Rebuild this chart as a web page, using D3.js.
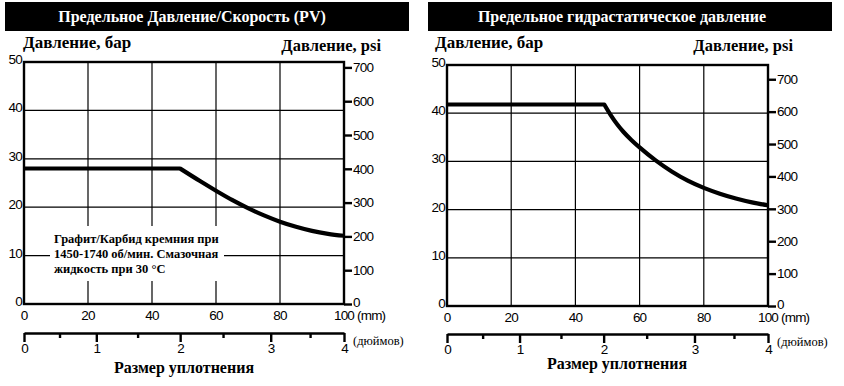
<!DOCTYPE html>
<html>
<head>
<meta charset="utf-8">
<script src="https://cdn.jsdelivr.net/npm/d3@7"></script>
<style>
  body { margin: 0; background: #fff; }
  svg { display: block; }
  .serif { font-family: "Liberation Serif", "Times New Roman", serif; font-weight: bold; }
  .num { font-family: "Liberation Sans", Arial, sans-serif; font-size: 13.5px; letter-spacing: -0.8px; }
</style>
</head>
<body>
<svg id="chart" width="844" height="386"></svg>
<script>
// values
const titles = ["Предельное Давление/Скорость (PV)", "Предельное гидрастатическое давление"];
const barTicks = [0, 10, 20, 30, 40, 50];
const psiTicks = [0, 100, 200, 300, 400, 500, 600, 700];
const mmTicks = [0, 20, 40, 60, 80, 100];
// inch scale is drawn unevenly in the source; mm position of every half inch
const inchValues = [0, 0.5, 1, 1.5, 2, 2.5, 3, 3.5, 4];
const inchAtMm = [0, 11.1, 22.6, 35.5, 48.8, 62.2, 77.1, 89.4, 100];
const inchLabels = [0, 1, 2, 3, 4];
// [mm, bar]; second point is where the flat part ends
const pvSeries = [[0, 28], [48.75, 28], [55, 25.4], [60, 23.4], [65, 21.5], [70, 19.8],
  [75, 18.3], [80, 17], [85, 15.95], [90, 15.1], [95, 14.5], [100, 14.1]];
const hydroSeries = [[0, 41.8], [49, 41.8], [51, 39.6], [53, 37.7], [55, 36.1], [57.5, 34.4],
  [60, 32.9], [65, 30.2], [70, 27.9], [75, 26], [80, 24.5], [85, 23.3], [90, 22.3],
  [95, 21.5], [100, 20.9]];
const noteLines = ["Графит/Карбид кремния при", "1450-1740 об/мин. Смазочная", "жидкость при 30 °C"];

const svg = d3.select("#chart");

const panels = [
  { title: titles[0], data: pvSeries, bar: [5, 409], titleX: 192,
    left: 24, right: 344, top: 62, bottom: 304, psiMax: 716, inchY: 333,
    psiLabelX: 381, barLabelX: 23, bottomTitleX: 184, bottomTitleY: 373, note: true },
  { title: titles[1], data: hydroSeries, bar: [428, 832], titleX: 622,
    left: 447, right: 768, top: 65, bottom: 306, psiMax: 744, inchY: 334,
    psiLabelX: 793, barLabelX: 435, bottomTitleX: 617, bottomTitleY: 369, note: false }
];

panels.forEach(drawPanel);

function drawPanel(p) {
  const g = svg.append("g");

  // title bar
  g.append("rect")
    .attr("x", p.bar[0]).attr("y", 2)
    .attr("width", p.bar[1] - p.bar[0]).attr("height", 29)
    .attr("fill", "#000");
  g.append("text").attr("class", "serif")
    .attr("x", p.titleX).attr("y", 22)
    .attr("text-anchor", "middle").attr("fill", "#fff")
    .style("font-size", "16px")
    .text(p.title);

  g.append("text").attr("class", "serif")
    .attr("x", p.barLabelX).attr("y", 48)
    .style("font-size", "17px")
    .text("Давление, бар");
  g.append("text").attr("class", "serif")
    .attr("x", p.psiLabelX).attr("y", 51)
    .attr("text-anchor", "end")
    .style("font-size", "16.5px")
    .text("Давление, psi");

  const x = d3.scaleLinear().domain([0, 100]).range([p.left, p.right]);
  const y = d3.scaleLinear().domain([0, 50]).range([p.bottom, p.top]);
  const yPsi = d3.scaleLinear().domain([0, p.psiMax]).range([p.bottom, p.top]);
  const xInch = d3.scaleLinear().domain(inchValues).range(inchAtMm.map(function (d) { return x(d); }));

  // grid
  g.append("g").selectAll("line")
    .data(barTicks.slice(1, -1))
    .join("line")
    .attr("x1", p.left).attr("x2", p.right)
    .attr("y1", function (d) { return y(d); })
    .attr("y2", function (d) { return y(d); })
    .attr("stroke", "#000").attr("stroke-width", 1.2);
  g.append("g").selectAll("line")
    .data(mmTicks.slice(1, -1))
    .join("line")
    .attr("y1", p.top).attr("y2", p.bottom)
    .attr("x1", function (d) { return x(d); })
    .attr("x2", function (d) { return x(d); })
    .attr("stroke", "#000").attr("stroke-width", 1.2);

  // note box (white patch over grid)
  if (p.note) {
    g.append("rect")
      .attr("x", 50).attr("y", 226)
      .attr("width", 174).attr("height", 55)
      .attr("fill", "#fff");
    g.append("text").attr("class", "serif")
      .style("font-size", "12.5px")
      .selectAll("tspan")
      .data(noteLines)
      .join("tspan")
      .attr("x", 54)
      .attr("y", function (d, i) { return 243 + i * 14.8; })
      .text(function (d) { return d; });
  }

  // curve: flat part, then the falling part (kept apart so the corner stays sharp)
  const line = d3.line()
    .x(function (d) { return x(d[0]); })
    .y(function (d) { return y(d[1]); })
    .curve(d3.curveMonotoneX);
  g.append("path")
    .attr("fill", "none")
    .attr("stroke", "#000")
    .attr("stroke-width", 4.2)
    .attr("stroke-linejoin", "round")
    .attr("d", line(p.data.slice(0, 2)) + line(p.data.slice(1)).replace(/^M/, "L"));

  // frame
  g.append("rect")
    .attr("x", p.left).attr("y", p.top)
    .attr("width", p.right - p.left).attr("height", p.bottom - p.top)
    .attr("fill", "none").attr("stroke", "#000").attr("stroke-width", 2.4);

  // left bar labels
  g.append("g").attr("class", "num")
    .selectAll("text")
    .data(barTicks)
    .join("text")
    .attr("x", p.left - 2)
    .attr("y", function (d) { return y(d) + 2; })
    .attr("text-anchor", "end")
    .text(function (d) { return d; });

  // right psi axis
  const rightAxis = g.append("g")
    .attr("transform", "translate(" + p.right + ",0)")
    .call(d3.axisRight(yPsi).tickValues(psiTicks).tickSize(8).tickPadding(1));
  rightAxis.select(".domain").remove();
  rightAxis.selectAll("line").attr("stroke-width", 2.4);
  rightAxis.selectAll("text")
    .attr("class", "num")
    .attr("font-family", null).attr("font-size", null)
    .attr("fill", "#000")
    .attr("dy", function (d) { return d === 0 ? "0.15em" : "0.32em"; });

  // mm labels
  g.append("g").attr("class", "num")
    .selectAll("text")
    .data(mmTicks)
    .join("text")
    .attr("x", function (d) { return x(d); })
    .attr("y", p.bottom + 16)
    .attr("text-anchor", "middle")
    .text(function (d) { return d; });
  g.append("text").attr("class", "num")
    .attr("x", x(100) + 13).attr("y", p.bottom + 16)
    .text("(mm)");

  // inch axis
  const inchAxis = g.append("g")
    .attr("transform", "translate(0," + p.inchY + ")")
    .call(d3.axisBottom(xInch)
      .tickValues(inchValues)
      .tickSize(9)
      .tickPadding(1)
      .tickSizeOuter(0)
      .tickFormat(function (d) { return inchLabels.indexOf(d) >= 0 ? d : ""; }));
  inchAxis.select(".domain")
    .attr("stroke-width", 2.4);
  inchAxis.selectAll(".tick line")
    .attr("stroke-width", 2.4)
    .attr("y2", function (d) { return inchLabels.indexOf(d) >= 0 ? 9 : 5; });
  inchAxis.selectAll("text")
    .attr("class", "num")
    .attr("font-family", null).attr("font-size", null)
    .attr("fill", "#000");
  g.append("text")
    .attr("x", p.right + 9).attr("y", p.inchY + 12)
    .style("font-family", "'Liberation Serif', 'Times New Roman', serif")
    .style("font-size", "12.5px")
    .text("(дюймов)");

  g.append("text").attr("class", "serif")
    .attr("x", p.bottomTitleX).attr("y", p.bottomTitleY)
    .attr("text-anchor", "middle")
    .style("font-size", "16px")
    .text("Размер уплотнения");
}
</script>
</body>
</html>
